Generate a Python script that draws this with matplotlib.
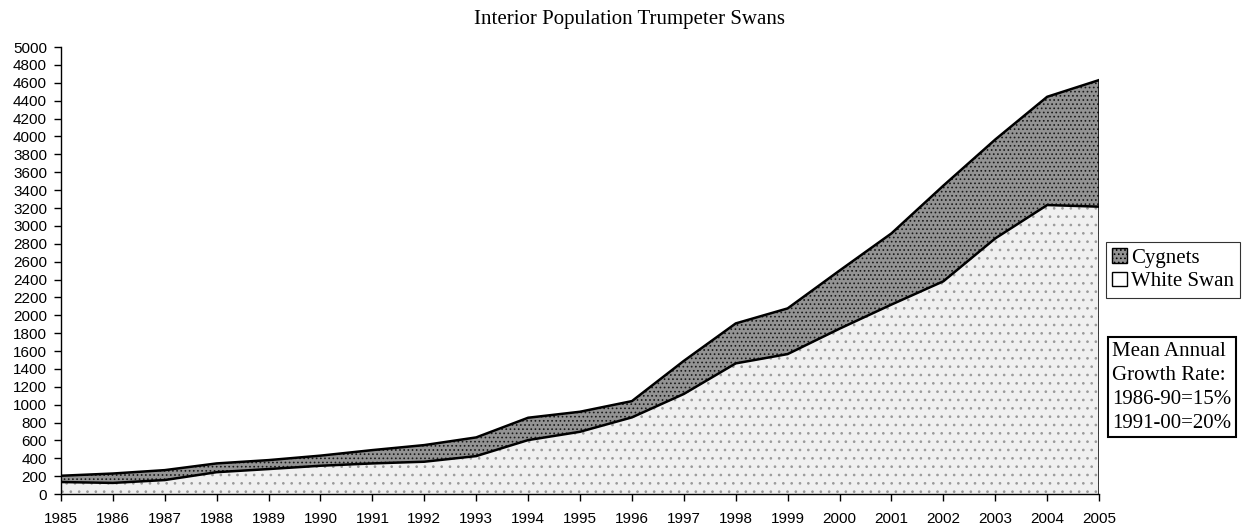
from matplotlib import pyplot as plt
from matplotlib.patches import Patch

# Counts
years = list(range(1985, 2006))
white_swans = [135, 125, 157, 245, 280, 317, 343, 362, 425, 604, 697,
               858, 1120, 1462, 1566, 1850, 2120, 2380, 2860, 3233, 3215]
cygnets = [70, 105, 111, 98, 100, 113, 149, 186, 209, 250, 224,
           182, 370, 447, 511, 650, 796, 1070, 1106, 1211, 1416]
totals = [w + c for w, c in zip(white_swans, cygnets)]

y_ticks = list(range(0, 5001, 200))
growth_note = "Mean Annual\nGrowth Rate:\n1986-90=15%\n1991-00=20%"

plt.rcParams["hatch.linewidth"] = 0.7
sans = ["Liberation Sans", "DejaVu Sans"]
serif = ["Liberation Serif", "DejaVu Serif"]

fig = plt.figure(figsize=(12.44, 5.29), dpi=100)
ax = fig.add_axes([0.049, 0.066, 0.8345, 0.845])

# Stacked layers with a stipple look
ax.fill_between(years, 0, white_swans, facecolor="#f0f0f0", edgecolor="#9a9a9a",
                hatch="..", linewidth=0)
ax.fill_between(years, white_swans, totals, facecolor="#939393", edgecolor="#1a1a1a",
                hatch="....", linewidth=0)
ax.plot(years, white_swans, color="black", linewidth=1.8)
ax.plot(years, totals, color="black", linewidth=1.8)
ax.vlines(years[-1], 0, totals[-1], color="black", linewidth=1.8)

ax.set_xlim(1985, 2005)
ax.set_ylim(0, 5000)
ax.set_xticks(years)
ax.set_yticks(y_ticks)
ax.set_xticklabels([str(y) for y in years], family=sans, fontsize=11)
ax.set_yticklabels([str(v) for v in y_ticks], family=sans, fontsize=11)
ax.tick_params(axis="both", direction="out", length=5, width=1, pad=5)
ax.tick_params(axis="x", pad=8)
for side in ["top", "right"]:
    ax.spines[side].set_visible(False)
for side in ["left", "bottom"]:
    ax.spines[side].set_linewidth(1.0)

fig.text(0.506, 0.964, "Interior Population Trumpeter Swans", family=serif,
         fontsize=15, ha="center", va="center")

handles = [
    Patch(facecolor="#939393", edgecolor="black", hatch="....", label="Cygnets"),
    Patch(facecolor="white", edgecolor="black", label="White Swan"),
]
leg = fig.legend(handles=handles, loc="upper left", bbox_to_anchor=(0.889, 0.543),
                 bbox_transform=fig.transFigure, prop={"family": serif, "size": 15},
                 frameon=True, fancybox=False, edgecolor="black", borderpad=0.3,
                 handlelength=0.7, handleheight=0.7, handletextpad=0.2,
                 labelspacing=0.2, borderaxespad=0)
leg.get_frame().set_linewidth(0.8)

fig.text(0.894, 0.268, growth_note, family=serif, fontsize=15, ha="left", va="center",
         linespacing=1.35,
         bbox=dict(boxstyle="square,pad=0.22", facecolor="white", edgecolor="black",
                   linewidth=1.5))

fig.savefig("out.png", dpi=100)
